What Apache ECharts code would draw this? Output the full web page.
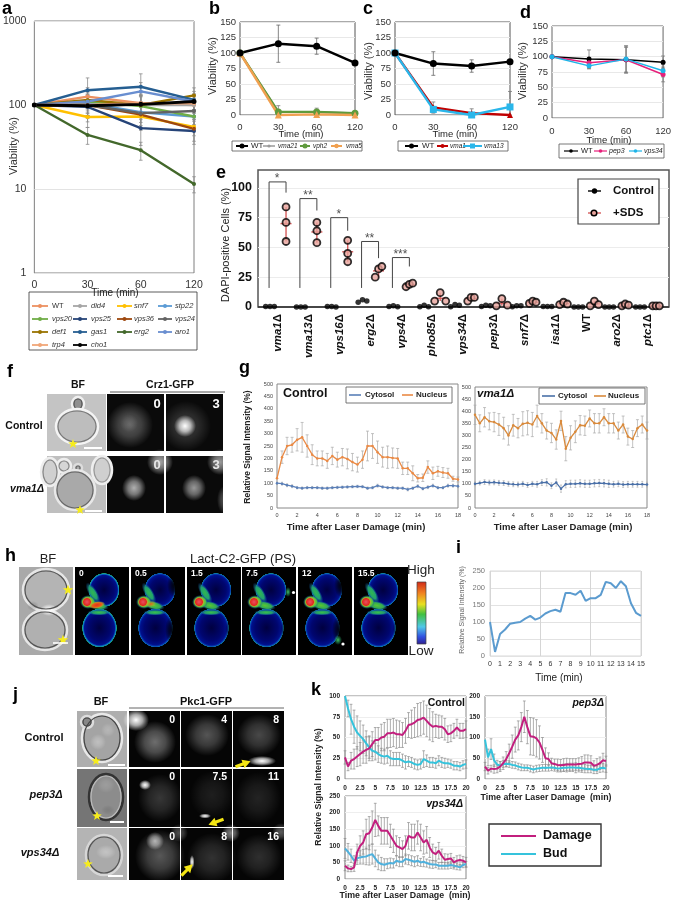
<!DOCTYPE html>
<html><head><meta charset="utf-8">
<style>html,body{margin:0;padding:0;background:#fff}#c{width:674px;height:901px}</style>
<script src="https://cdn.jsdelivr.net/npm/echarts@6/dist/echarts.min.js"></script>
</head><body><div id="c"></div>
<script>
// ---------- DATA ----------
const timeLabels = ['0','30','60','120'];
const aStrains = ['WT','did4','snf7','stp22','vps20','vps25','vps36','vps24','def1','gas1','erg2','aro1','trp4','cho1'];
const aWT=[100,126,105,100], aDid4=[100,105,100,100], aSnf7=[100,72,73,55], aStp22=[100,105,82,73],
 aVps20=[100,110,97,73], aVps25=[100,95,53,49], aVps36=[100,100,77,52], aVps24=[100,100,80,85],
 aDef1=[100,115,100,130], aGas1=[100,150,165,115], aErg2=[100,44,29,11.5], aAro1=[100,110,145,110],
 aTrp4=[100,100,105,105], aCho1=[100,98,102,110];
const aWTe=[0,35,30,25], aDid4e=[0,30,25,20], aSnf7e=[0,18,20,12], aStp22e=[0,25,20,15],
 aVps20e=[0,30,30,15], aVps25e=[0,20,20,15], aVps36e=[0,25,20,15], aVps24e=[0,25,30,15],
 aDef1e=[0,30,30,30], aGas1e=[0,60,70,30], aErg2e=[0,10,7,2.5], aAro1e=[0,40,40,25],
 aTrp4e=[0,30,25,25], aCho1e=[0,35,30,25];

const bWT=[100,115,111,84], bVma21=[100,5,5,3], bVph2=[100,5,5,3], bVma5=[100,0,1,0];
const bWTe=[0,30,13,0], bVph2e=[0,10,6,2], bVma5e=[0,1,1,0];
const cWT=[100,83,79,86], cVma1=[100,12,3,0], cVma13=[100,9,0,13];
const cWTe=[0,19,10,0], cVma1e=[0,9,7,0], cVma13e=[0,5,3,25];
const dWT=[100,96,95,91], dPep3=[100,90,95,71], dVps34=[100,85,96,77];
const dWTe=[0,15,22,10], dPep3e=[0,8,20,12], dVps34e=[0,5,22,10];

const eStrains=['vma1','vma13','vps16','erg2','vps4','pho85','vps34','pep3','snf7','isa1','WT','aro2','ptc1'];
const eControl=[[.5,.5,.5],[0,0,0],[.5,.5,0],[4,6,5],[.5,1,.3],[.3,1.5,.2],[.3,2,1.5],[.5,1.5,1],[.3,1,1],[.5,.5,.5],[0,0,0],[0,0,0],[0,0,0]];
const eSDS=[[55,71,84],[54,64,71],[38,45,56],[25,32,34],[17,19,20],[5,12,5],[5,8,8],[1,7,1.5],[3,5,4],[2,4,2.5],[1,5,2],[1,2.5,1.5],[1,1,1]];
const eSpreadSDS=[0,0,0,.12,.12,.2,.12,.2,.12,.14,.15,.12,.12];
const bracketTop=[105,91,75,55,41.5], bracketEnd=[96,81,64,41,34], bracketStars=['*','**','*','**','***'];

const gCtrlNuc=[120,205,250,255,275,285,250,215,200,200,190,210,195,205,198,185,175,195,250,250,225,205,205,202,200,160,160,140,120,122,165,140,148,143,140,118,115];
const gCtrlNucE=[0,25,35,30,45,60,45,40,30,30,30,35,30,35,40,35,30,35,60,50,45,40,45,40,40,25,25,30,15,15,25,25,20,20,20,10,10];
const gCtrlCyt=[100,98,92,88,82,80,82,82,82,80,80,82,83,84,85,86,87,86,80,82,90,85,82,82,80,80,75,80,88,78,84,90,82,82,90,90,88];
const gCtrlCytE=[5,6,6,6,5,5,5,5,5,5,5,5,5,5,5,5,5,5,5,5,6,5,5,5,5,5,6,5,6,5,6,6,5,5,6,6,6];
const gVmaNuc=[385,350,375,358,355,345,330,300,342,330,348,352,345,380,350,320,310,283,360,245,290,315,342,340,370,350,350,375,350,350,320,345,295,285,330,345,320];
const gVmaNucE=[40,35,40,35,40,45,45,40,45,40,50,50,50,45,40,35,40,40,40,50,50,45,40,40,35,40,40,35,40,40,35,35,35,35,35,35,35];
const gVmaCyt=[100,103,107,105,106,104,103,100,98,97,100,95,100,98,105,106,92,105,80,98,100,100,102,100,100,102,103,102,100,98,100,97,98,98,98,98,97];
const gVmaCytE=[8,8,10,10,10,10,10,10,10,10,10,10,10,12,12,15,12,15,15,15,15,15,15,15,15,15,15,15,15,12,12,12,12,12,12,12,10];

const iValues=[100,12,65,78,95,98,100,110,118,107,113,125,132,136,130,185,185,180,192,162,170,170,180,218,214,200,220,205,155,127,118];

const kCtrlDmg=[26,15,22,24,27,30,33,35,37,42,47,47,50,51,55,55,56,54,54,53,58,65,66,68,71,72,74,70,66,63,64,63,63,60,54,55,58,62,58,58,60];
const kCtrlDmgE=[8,5,10,12,12,14,14,16,15,15,15,15,16,17,17,17,17,17,16,15,15,15,17,18,20,20,20,19,19,18,14,14,13,13,10,10,9,10,9,9,10];
const kCtrlBud=[100,85,72,63,56,52,48,43,38,34,33,30,28,27,28,25,24,24,24,22,20,21,20,18,17,18,24,22,20,20,19,22,20,19,19,18,16,16,15,17,18];
const kCtrlBudE=[0,10,18,20,20,18,17,15,13,12,10,10,9,9,9,9,8,8,8,8,8,6,6,6,6,6,10,7,6,6,6,6,6,6,5,5,5,5,5,5,5];
const kPepDmg=[30,20,25,24,25,30,38,48,62,78,95,105,125,150,125,103,102,98,88,70,50,48,38,36,34,33,34,35,35,35,35,36,37,40,40,39,32,34,38,45,43];
const kPepDmgE=[10,8,8,10,10,12,15,18,22,28,30,35,35,38,40,45,45,45,40,30,25,15,12,12,14,14,15,15,14,14,14,15,17,18,18,17,12,15,15,17,12];
const kPepBud=[95,52,72,45,35,32,36,37,36,34,33,30,28,27,27,25,23,25,26,27,27,27,28,27,25,26,27,27,28,28,27,27,26,25,24,24,22,22,26,27,25];
const kPepBudE=[0,20,25,15,10,10,8,8,8,8,8,8,8,7,7,8,8,8,8,8,8,8,8,8,8,9,9,10,10,10,12,10,10,10,9,9,9,9,10,10,9];
const kVpsDmg=[40,32,30,35,80,100,110,135,138,155,178,160,145,145,145,130,115,100,95,90,100,130,125,125,140,125,110,118,95,80,75,85,70,58,60,62,50,55,57,55,50];
const kVpsDmgE=[15,10,8,12,25,30,35,45,50,50,50,30,40,40,40,35,35,30,30,25,30,40,40,40,35,40,35,40,30,25,20,25,20,18,15,15,15,15,15,13,15];
const kVpsBud=[92,82,70,55,62,65,67,68,72,75,62,50,45,43,46,48,47,55,52,52,60,58,55,52,55,50,52,48,45,44,44,40,40,40,40,42,40,38,35,42,45];
const kVpsBudE=[30,25,20,15,18,20,22,25,30,30,25,22,20,18,15,15,14,15,15,15,15,15,15,15,15,12,15,12,12,12,10,10,10,10,10,10,10,10,8,8,8];

// ---------- HELPERS ----------
const FF='"Liberation Sans", Arial, sans-serif';
const grids=[], xAxes=[], yAxes=[], series=[], G=[];
const seq=(arr,step)=>arr.map((v,i)=>[i*step,v]);
function addGrid(l,t,r,b,border,x,y){
  const i=grids.length;
  grids.push({left:l,top:t,width:r-l,height:b-t,show:true,borderColor:border,borderWidth:1,backgroundColor:'transparent'});
  xAxes.push(Object.assign({gridIndex:i},x)); yAxes.push(Object.assign({gridIndex:i},y));
  return i;
}
function line(g,data,color,w,symbol,size,z){
  series.push({type:'line',xAxisIndex:g,yAxisIndex:g,data,symbol:symbol||'none',symbolSize:size||0,showSymbol:!!symbol,
    lineStyle:{color,width:w},itemStyle:{color},silent:true,animation:false,z:z||3,clip:false});
}
function err(g,rows,color,cap,lw){
  series.push({type:'custom',xAxisIndex:g,yAxisIndex:g,data:rows,encode:{x:0,y:1},silent:true,animation:false,z:2,clip:false,
    renderItem(p,api){
      const x=api.value(0),y=api.value(1),e=api.value(2);
      if(!e) return {type:'group',children:[]};
      const a=api.coord([x,y+e]),b=api.coord([x,Math.max(y-e,y>0&&g===0?y*0.3:0)]);
      const st={stroke:color,lineWidth:lw};
      return {type:'group',silent:true,children:[
        {type:'line',shape:{x1:a[0],y1:a[1],x2:b[0],y2:b[1]},style:st},
        {type:'line',shape:{x1:a[0]-cap,y1:a[1],x2:a[0]+cap,y2:a[1]},style:st},
        {type:'line',shape:{x1:b[0]-cap,y1:b[1],x2:b[0]+cap,y2:b[1]},style:st}]};
    }});
}
const rowsCat=(v,e)=>v.map((y,i)=>[i,y,e[i]]);
const rowsT=(v,e,s)=>v.map((y,i)=>[i*s,y,e[i]]);

function txt(x,y,text,font,fill,align,rot,z){
  G.push({type:'text',x,y,rotation:rot||0,z:z||60,silent:true,style:{text,font,fill:fill||'#111',
    align:align||'left',verticalAlign:'middle',textAlign:align||'left',textVerticalAlign:'middle'}});
}
function rect(x,y,w,h,fill,stroke,lw,z){G.push({type:'rect',z:z||1,silent:true,shape:{x,y,width:w,height:h},style:{fill:fill||'transparent',stroke:stroke||null,lineWidth:lw||1}});}
function seg(x1,y1,x2,y2,c,w,z){G.push({type:'line',z:z||60,silent:true,shape:{x1,y1,x2,y2},style:{stroke:c,lineWidth:w}});}
function blob(cx,cy,rx,ry,stops,rot,z){
  G.push({type:'circle',x:cx,y:cy,rotation:rot||0,scaleX:1,scaleY:ry/rx,z:z||2,silent:true,shape:{cx:0,cy:0,r:rx},
    style:{fill:{type:'radial',x:.5,y:.5,r:.5,colorStops:stops.map(s=>({offset:s[0],color:s[1]}))}}});
}
function glow(cx,cy,rx,ry,a,c,rot){const k=c||'255,255,255';
  blob(cx,cy,rx,ry,[[0,`rgba(${k},${a})`],[.5,`rgba(${k},${a*.65})`],[1,`rgba(${k},0)`]],rot);}
function shell(cx,cy,rx,ry,fill,outer,inner,z){
  G.push({type:'ellipse',z:z||2,silent:true,shape:{cx,cy,rx,ry},style:{fill,stroke:outer,lineWidth:2.5}});
  G.push({type:'ellipse',z:(z||2)+.1,silent:true,shape:{cx,cy,rx:rx-2,ry:ry-2},style:{fill:'transparent',stroke:inner,lineWidth:1.2}});
}
function star(cx,cy,r){const pts=[];for(let i=0;i<10;i++){const q=i%2?r*.42:r,t=-Math.PI/2+i*Math.PI/5;pts.push([cx+q*Math.cos(t),cy+q*Math.sin(t)]);}
  G.push({type:'polygon',z:9,silent:true,shape:{points:pts},style:{fill:'#f6ec1c'}});}
function arrow(cx,cy,rot){const P=[[-8,-1.6],[0,-1.6],[0,-4.5],[8,0],[0,4.5],[0,1.6],[-8,1.6]];
  G.push({type:'polygon',x:cx,y:cy,rotation:rot,z:9,silent:true,shape:{points:P},style:{fill:'#f4e614'}});}
function legEntry(x1,x2,y,c,lw,sym,r,tx,label,font,fill){
  seg(x1,y,x2,y,c,lw,61);
  if(sym==='c') G.push({type:'circle',z:62,silent:true,shape:{cx:(x1+x2)/2,cy:y,r},style:{fill:c}});
  if(sym==='s') G.push({type:'rect',z:62,silent:true,shape:{x:(x1+x2)/2-r,y:y-r,width:2*r,height:2*r},style:{fill:c}});
  txt(tx,y,label,font,fill||'#222');
}
function legBox(x1,y1,x2,y2,c,w){G.push({type:'rect',z:59,silent:true,shape:{x:x1,y:y1,width:x2-x1,height:y2-y1},style:{fill:'#fff',stroke:c,lineWidth:w}});}
const panel=(x,y,s)=>txt(x,y,s,'bold 18px '+FF,'#000');

// ---------- a-d ----------
const catX=(fs,mar,col)=>({type:'category',boundaryGap:false,data:timeLabels,axisLine:{show:false},axisTick:{show:false},
  splitLine:{show:false},axisLabel:{fontFamily:FF,fontSize:fs,margin:mar,color:col,showMinLabel:true,showMaxLabel:true}});
const vY=(fs,col)=>({type:'value',min:0,max:150,interval:25,axisLine:{show:false},axisTick:{show:false},
  splitLine:{show:true,lineStyle:{color:'#e8e8e8',width:1}},axisLabel:{fontFamily:FF,fontSize:fs,color:col,margin:4}});
const gA=addGrid(33,21,194,273,'#7f7f7f',catX(10.5,7,'#333'),
  {type:'log',logBase:10,min:1,max:1000,axisLine:{show:false},axisTick:{show:false},minorTick:{show:false},
   splitLine:{show:true,lineStyle:{color:'#e3e3e3'}},axisLabel:{fontFamily:FF,fontSize:10.5,color:'#333',margin:8,formatter:v=>String(Math.round(v))}});
const aSet=[['WT',aWT,aWTe,'#ec9060'],['did4',aDid4,aDid4e,'#a5a5a5'],['snf7',aSnf7,aSnf7e,'#ffc000'],['stp22',aStp22,aStp22e,'#5b9bd5'],
 ['vps20',aVps20,aVps20e,'#70ad47'],['vps25',aVps25,aVps25e,'#264478'],['vps36',aVps36,aVps36e,'#9e480e'],['vps24',aVps24,aVps24e,'#636363'],
 ['def1',aDef1,aDef1e,'#997300'],['gas1',aGas1,aGas1e,'#255e91'],['erg2',aErg2,aErg2e,'#43682b'],['aro1',aAro1,aAro1e,'#698ed0'],
 ['trp4',aTrp4,aTrp4e,'#f1a678'],['cho1',aCho1,aCho1e,'#000000']];
aSet.forEach(s=>err(gA,rowsCat(s[1],s[2]),'#8c8c8c',1.8,.8));
aSet.forEach(s=>line(gA,s[1],s[3],s[0]==='cho1'?2.8:2.4,'circle',s[0]==='cho1'?5:4));

const gB=addGrid(240,22,355,115,'#555',catX(9.5,7,'#333'),vY(9.5,'#333'));
err(gB,rowsCat(bWT,bWTe),'#666',2,.8);err(gB,rowsCat(bVph2,bVph2e),'#777',2,.8);err(gB,rowsCat(bVma5,bVma5e),'#777',2,.8);
line(gB,bVma21,'#9a9a9a',2,'circle',4);line(gB,bVph2,'#5f9a3c',2.4,'circle',7);line(gB,bVma5,'#f0a050',2.4,'triangle',7);line(gB,bWT,'#000',2.4,'circle',7);

const gC=addGrid(395,22,510,115,'#555',catX(9.5,7,'#333'),vY(9.5,'#333'));
err(gC,rowsCat(cWT,cWTe),'#666',2,.8);err(gC,rowsCat(cVma1,cVma1e),'#777',2,.8);err(gC,rowsCat(cVma13,cVma13e),'#777',2,.8);
line(gC,cVma1,'#c00000',2.4,'triangle',6);line(gC,cVma13,'#2ab6ea',2.4,'rect',7);line(gC,cWT,'#000',2.4,'circle',7);

const gD=addGrid(552,26,667,118,'#666',catX(9.5,8,'#333'),vY(9.5,'#333'));
err(gD,rowsCat(dWT,dWTe),'#666',2,.7);err(gD,rowsCat(dPep3,dPep3e),'#777',2,.7);err(gD,rowsCat(dVps34,dVps34e),'#777',2,.7);
line(gD,dWT,'#000',1.5,'circle',5);line(gD,dPep3,'#e6207a',1.5,'circle',5);line(gD,dVps34,'#1fb4e8',1.5,'circle',5);

panel(2,9,'a');panel(209,9,'b');panel(363,9,'c');panel(520,13,'d');panel(216,173,'e');
panel(7,372,'f');panel(239,368,'g');panel(5,556,'h');panel(456,548,'i');panel(13,695,'j');panel(311,690,'k');

const vF='11px '+FF;
txt(14,146,'Viability (%)',vF,'#333','center',Math.PI/2);
txt(115,293,'Time (min)','10px '+FF,'#222','center');
txt(213,66,'Viability (%)',vF,'#333','center',Math.PI/2);
txt(301,134,'Time (min)','9.5px '+FF,'#222','center');
txt(369,71,'Viability (%)',vF,'#333','center',Math.PI/2);
txt(455,134,'Time (min)','9.5px '+FF,'#222','center');
txt(523,71,'Viability (%)',vF,'#333','center',Math.PI/2);
txt(609,140,'Time (min)','9.5px '+FF,'#222','center');

legBox(29,292,197,350,'#333',.8);
const aCols=[[32,48,52],[73,87,91],[117,132,134],[158,172,175]], aRows=[306,319,332,345];
aSet.forEach((s,i)=>{const c=aCols[i%4],y=aRows[Math.floor(i/4)];
  legEntry(c[0],c[1],y,s[3],1.8,'c',2,c[2],s[0],(s[0]==='WT'?'':'italic ')+'7.5px '+FF,'#333');});

legBox(232,141,362,151,'#555',.8);const yb=146;
legEntry(236,248,yb,'#000',2,'c',2.5,251,'WT','8px '+FF);
legEntry(263,275,yb,'#9a9a9a',1.5,'c',1.6,278,'vma21','italic 6.5px '+FF);
legEntry(300,310,yb,'#5f9a3c',2,'c',2.5,313,'vph2','italic 6.5px '+FF);
legEntry(331,342,yb,'#f0a050',2,'c',2.2,346,'vma5','italic 6.5px '+FF);
legBox(398,141,508,151,'#555',.8);
legEntry(405,418,yb,'#000',2,'c',2.5,422,'WT','8px '+FF);
legEntry(437,448,yb,'#c00000',2,'c',2,450,'vma1','italic 6.5px '+FF);
legEntry(463,482,yb,'#2ab6ea',2,'s',2.5,484,'vma13','italic 6.5px '+FF);
legBox(559,144,664,158,'#555',.8);
legEntry(564,578,151,'#000',1.2,'c',1.8,581,'WT','7.5px '+FF);
legEntry(594,607,151,'#e6207a',1.2,'c',1.8,609,'pep3','italic 7px '+FF);
legEntry(629,642,151,'#1fb4e8',1.2,'c',1.8,644,'vps34','italic 7px '+FF);

// ---------- e ----------
const eBold=v=>{const n=eStrains[v]; return n==='WT'?'{b|WT}':`{i|${n}}{d|Δ}`;};
const gE=addGrid(258,170,669,307,'#555',
 {type:'value',min:-0.649,max:12.68,axisLine:{show:false},splitLine:{show:false},axisTick:{show:false},
  axisLabel:{customValues:eStrains.map((_,i)=>i),rotate:90,margin:7,formatter:eBold,
   rich:{i:{fontFamily:FF,fontSize:11.5,fontWeight:'bold',fontStyle:'italic',color:'#111'},
         d:{fontFamily:FF,fontSize:11.5,fontWeight:'bold',color:'#111'},
         b:{fontFamily:FF,fontSize:11.5,fontWeight:'bold',color:'#111'}}}},
 {type:'value',min:0,max:115,axisLine:{show:false},axisTick:{show:false},
  splitLine:{show:true,showMaxLine:false,showMinLine:false,lineStyle:{color:'#ececec'}},
  splitNumber:5,interval:25,
  axisLabel:{customValues:[0,25,50,75,100],fontFamily:FF,fontSize:12.5,fontWeight:'bold',color:'#111',margin:6}});
grids[gE].borderWidth=1.5;
seg(258,307,669,307,'#333',1.5,4);
// brackets
bracketTop.forEach((t,i)=>{
  series.push({type:'line',xAxisIndex:gE,yAxisIndex:gE,silent:true,animation:false,showSymbol:false,symbol:'none',z:2,
    lineStyle:{color:'#444',width:1},data:[[i-.26-.03,16],[i-.26-.03,t],[i+.26,t],[i+.26,bracketEnd[i]]]});
  series.push({type:'scatter',xAxisIndex:gE,yAxisIndex:gE,silent:true,animation:false,symbolSize:0,z:5,data:[[i-.03,t]],
    label:{show:true,position:'top',distance:-3,formatter:bracketStars[i],fontFamily:FF,fontSize:12,color:'#222'}});
});
const ctrlPts=[],sdsPts=[],bars=[];
const j3=[-.14,0,.14];
eControl.forEach((row,i)=>row.forEach((v,k)=>ctrlPts.push([i-.26+j3[k],v])));
eSDS.forEach((row,i)=>{row.forEach((v,k)=>sdsPts.push([i+.26+(k===1?0:(k===0?-1:1))*eSpreadSDS[i]*.9,v]));
  bars.push([i+.26,Math.min(...row),Math.max(...row),row.reduce((a,b)=>a+b,0)/3]);});
series.push({type:'custom',xAxisIndex:gE,yAxisIndex:gE,data:bars,encode:{x:0,y:3},silent:true,animation:false,z:3,
  renderItem(p,api){const x=api.value(0),a=api.coord([x,api.value(1)]),b=api.coord([x,api.value(2)]),m=api.coord([x,api.value(3)]);
    const st={stroke:'#d65c5c',lineWidth:1.4};
    return {type:'group',children:[{type:'line',shape:{x1:a[0],y1:a[1],x2:b[0],y2:b[1]},style:st},
      {type:'line',shape:{x1:m[0]-5.5,y1:m[1],x2:m[0]+5.5,y2:m[1]},style:st}]};}});
series.push({type:'scatter',xAxisIndex:gE,yAxisIndex:gE,data:ctrlPts,symbol:'circle',symbolSize:5.5,itemStyle:{color:'#000'},silent:true,animation:false,z:4});
series.push({type:'scatter',xAxisIndex:gE,yAxisIndex:gE,data:sdsPts,symbol:'circle',symbolSize:7,itemStyle:{color:'#e8a49c',borderColor:'#000',borderWidth:1.8},silent:true,animation:false,z:4});
txt(226,245,'DAPI-positive Cells (%)','11px '+FF,'#222','center',Math.PI/2);
legBox(578,179,659,224,'#444',1.2);
seg(588,191,601,191,'#000',1.4,61);G.push({type:'circle',z:62,silent:true,shape:{cx:594.5,cy:191,r:2.7},style:{fill:'#000'}});
seg(588,213,601,213,'#d65c5c',1.4,61);G.push({type:'circle',z:62,silent:true,shape:{cx:594,cy:213,r:2.8},style:{fill:'#e8a49c',stroke:'#000',lineWidth:1.5}});
txt(613,191,'Control','bold 11.5px '+FF);txt(613,213,'+SDS','bold 11.5px '+FF);

// ---------- f ----------
txt(78,385,'BF','bold 10.5px '+FF,'#111','center');txt(170,385,'Crz1-GFP','bold 10.5px '+FF,'#111','center');
seg(110,392,225,392,'#555',1);
txt(24,426,'Control','bold 10.5px '+FF,'#111','center');
txt(27,489,'vma1Δ','italic bold 10.5px '+FF,'#111','center');
rect(47,394,59,57,'#c4c4c4');
shell(78,404,6,7,'#8f8f8f','#f0f0f0','#555');
G.push({type:'ellipse',z:3,silent:true,shape:{cx:77,cy:426.5,rx:21,ry:17.5},style:{fill:'#bdbdbd',stroke:'#f4f4f4',lineWidth:2.5}});
G.push({type:'ellipse',z:3.1,silent:true,shape:{cx:77,cy:426.5,rx:19,ry:15.5},style:{fill:'transparent',stroke:'#777',lineWidth:1.1}});
star(73,444,5);seg(84,448,102,448,'#fff',2,9);
rect(47,456,59,57,'#bfbfbf');
shell(64,466,7,7,'#d6d6d6','#eee','#888');shell(50,472,9,14,'#d0d0d0','#eee','#888');shell(102,470,10,14,'#cfcfcf','#eee','#999');
shell(78,468,4,4,'#aaa','#ddd','#666');
G.push({type:'ellipse',z:3,silent:true,shape:{cx:75,cy:490,rx:20,ry:20},style:{fill:'#a9a9a9',stroke:'#e8e8e8',lineWidth:2.5}});
G.push({type:'ellipse',z:3.1,silent:true,shape:{cx:75,cy:490,rx:18,ry:18},style:{fill:'transparent',stroke:'#666',lineWidth:1.1}});
star(80,510,5);seg(85,511,102,511,'#fff',2,9);
[[107,394],[166,394],[107,456],[166,456]].forEach(p=>rect(p[0],p[1],57,57,'#0a0a0a'));
glow(130,425,23,23,.33);glow(129,423,9,9,.1);
glow(186,426,25,25,.2);glow(185,426,11,11,1);
glow(134,488,12,13,.68);glow(160,462,13,13,.65);
glow(194,488,12,13,.58);glow(220,462,13,13,.6);glow(224,500,7,14,.3);
[[157,404,'0','#fff'],[216,404,'3','#fff'],[157,465,'0','#e8e8e8'],[216,465,'3','#e8e8e8']].forEach(t=>txt(t[0],t[1],t[2],'bold 13px '+FF,t[3],'center'));

// ---------- g ----------
const gx=()=>({type:'value',min:0,max:18,interval:2,axisLine:{show:false},axisTick:{show:false},splitLine:{show:false},
  axisLabel:{fontFamily:FF,fontSize:5.5,color:'#444',margin:4}});
const gy=()=>({type:'value',min:0,max:500,interval:50,axisLine:{show:false},axisTick:{show:false},splitLine:{show:false},
  axisLabel:{fontFamily:FF,fontSize:5.5,color:'#444',margin:4}});
const gG1=addGrid(277,384,458,508,'#888',gx(),gy());
err(gG1,rowsT(gCtrlNuc,gCtrlNucE,.5),'#aaa',1.5,.7);err(gG1,rowsT(gCtrlCyt,gCtrlCytE,.5),'#aaa',1,.6);
line(gG1,seq(gCtrlCyt,.5),'#5a7fb8',1.2,'circle',2.5);line(gG1,seq(gCtrlNuc,.5),'#ea8a45',1.3,'circle',2.5);
const gG2=addGrid(475,387,647,508,'#888',gx(),gy());
err(gG2,rowsT(gVmaNuc,gVmaNucE,.5),'#aaa',1.5,.7);err(gG2,rowsT(gVmaCyt,gVmaCytE,.5),'#aaa',1,.6);
line(gG2,seq(gVmaCyt,.5),'#4a70a8',1.2,'circle',2.5);line(gG2,seq(gVmaNuc,.5),'#d98a3c',1.3,'circle',2.5);
txt(248,447,'Relative Signal Intensity (%)','bold 8.5px '+FF,'#222','center',Math.PI/2);
txt(356,527,'Time after Laser Damage (min)','bold 9.5px '+FF,'#222','center');
txt(563,527,'Time after Laser Damage (min)','bold 9.5px '+FF,'#222','center');
txt(283,394,'Control','bold 12.5px '+FF);
txt(477,394,'vma1Δ','italic bold 11.5px '+FF);
legBox(346,387,452,403,'#666',.9);
legEntry(349,361,395,'#5a7fb8',1.6,null,0,365,'Cytosol','bold 8px '+FF);
legEntry(402,413,395,'#ea8a45',1.6,null,0,416,'Nucleus','bold 8px '+FF);
legBox(539,388,645,404,'#666',.9);
legEntry(542,555,396,'#4a70a8',1.6,null,0,558,'Cytosol','bold 8px '+FF);
legEntry(594,606,396,'#d98a3c',1.6,null,0,608,'Nucleus','bold 8px '+FF);

// ---------- h ----------
txt(48,559,'BF','13px '+FF,'#222','center');txt(243,559,'Lact-C2-GFP (PS)','13px '+FF,'#222','center');
rect(19,567,54,88,'#a9a9a9');
shell(46,590,23,21,'#b4b4b4','#e6e6e6','#555');shell(45,630,22,20,'#b0b0b0','#e6e6e6','#555');
glow(49,610,9,6,.9);glow(33,606,6,5,.25,'60,60,60');
star(68,590,5.5);star(63,640,5.5);seg(53,643,68,643,'#fff',1.6,9);
const hX=[75,131,187,242,298,354], hT=['0','0.5','1.5','7.5','12','15.5'];
const hRing=[['#0870c8','#1cb080'],['#0638b0','#0c78c0'],['#0638b0','#0e88b0'],['#0640b8','#1498a0'],['#0638b0','#0c78b8'],['#0640b8','#1290a8']];
hX.forEach((px,i)=>{
  rect(px,567,54,88,'#000');
  const r=hRing[i];
  const mk=(cx,cy,rx,ry)=>blob(cx,cy,rx,ry,[[0,'#000040'],[.65,'#000670'],[.86,'#00108c'],[.93,r[0]],[.98,r[1]],[1,'rgba(0,0,0,0)']]);
  mk(px+29,590,15.5,17);mk(px+24.5,628,17.5,19.5);
  if(i===1||i===4){glow(px+44,585,8,13,1,'0,0,0');glow(px+41,630,7,15,.9,'0,0,0');}
  if(i===2||i===3||i===5){glow(px+43,630,5,12,.5,'0,0,0');}
  blob(px+18,593,4.5,12,[[0,'#30b850'],[.55,'#20a070'],[1,'rgba(10,70,170,0)']],.55);
  blob(px+24,612.5,12,3,[[0,'#38c048'],[.55,'#209870'],[1,'rgba(10,70,170,0)']]);
  blob(px+23,605.5,11,4.5,[[0,'#58c830'],[.6,'#30a858'],[1,'rgba(10,70,170,0)']],-.2);
  blob(px+13,602,8,7,[[0,'#e8c820'],[.7,'#50c040'],[1,'rgba(10,70,170,0)']]);
  blob(px+12,602,5,5,[[0,'#e85060'],[.7,'#e02820'],[1,'rgba(230,180,30,.2)']]);
  if(i===0) blob(px+22,605,8,3.5,[[0,'#e83018'],[.6,'#e86018'],[1,'rgba(220,190,30,.1)']],.2);
  if(i===1) blob(px+20,604,5,3,[[0,'#e86018'],[1,'rgba(220,190,30,.1)']],.2);
  txt(px+4,574,hT[i],'bold 8.5px '+FF,'#fff');
});
blob(338,640,4,5,[[0,'#40c060'],[1,'rgba(40,180,120,0)']]);
blob(288,592,3,5,[[0,'#40c060'],[1,'rgba(40,180,120,0)']]);
G.push({type:'circle',z:8,silent:true,shape:{cx:293.5,cy:592.5,r:1.6},style:{fill:'#fff'}});
G.push({type:'circle',z:8,silent:true,shape:{cx:343,cy:644,r:1.6},style:{fill:'#fff'}});
G.push({type:'rect',z:3,silent:true,shape:{x:417,y:582,width:9,height:62},style:{stroke:'#444',lineWidth:.7,
  fill:{type:'linear',x:0,y:0,x2:0,y2:1,colorStops:[{offset:0,color:'#d02818'},{offset:.18,color:'#f08020'},{offset:.36,color:'#e8e020'},{offset:.52,color:'#40c040'},{offset:.72,color:'#50c8e8'},{offset:.88,color:'#3050e0'},{offset:1,color:'#302090'}]}}});
txt(421,570,'High','13.5px '+FF,'#222','center');txt(421,651,'Low','13.5px '+FF,'#222','center');

// ---------- i ----------
const gI=addGrid(490,571,641,656,'#d9d9d9',
 {type:'category',boundaryGap:false,data:iValues.map((_,i)=>String(i*.5)),axisLine:{show:false},axisTick:{show:false},
  axisLabel:{interval:1,fontFamily:FF,fontSize:7,color:'#333',margin:5},
  splitLine:{show:true,interval:i=>i%10===0,lineStyle:{color:'#d5d5d5'}}},
 {type:'value',min:0,max:250,interval:50,axisLine:{show:false},axisTick:{show:false},splitLine:{show:true,lineStyle:{color:'#e2e2e2'}},
  axisLabel:{fontFamily:FF,fontSize:7.5,color:'#777',margin:5}});
line(gI,iValues,'#5b9bcf',2);
txt(462,610,'Relative Signal Intensity (%)','7px '+FF,'#666','center',Math.PI/2);
txt(559,678,'Time (min)','10px '+FF,'#222','center');

// ---------- j ----------
txt(101,702,'BF','bold 11px '+FF,'#111','center');txt(206,702,'Pkc1-GFP','bold 11px '+FF,'#111','center');
seg(129,708,284,708,'#666',1);
txt(44,738,'Control','bold 11px '+FF,'#111','center');
txt(46,795,'pep3Δ','italic bold 11px '+FF,'#111','center');
txt(40,853,'vps34Δ','italic bold 11px '+FF,'#111','center');
rect(77,711,50,56,'#aeaeae');
shell(102,738,20,24,'#a4a4a4','#e8e8e8','#444');shell(87,722,6,6,'#888','#ddd','#444');
glow(98,742,8,8,.3);glow(108,730,7,7,.2);star(96,761,5);seg(108,765,125,765,'#fff',2,9);
rect(77,769,50,58,'#757575');
shell(106,797,17,23,'#8c8c8c','#333','#bbb');glow(106,785,9,8,.15);glow(108,810,7,5,.1,'0,0,0');
star(97,816,5);seg(110,822,124,822,'#fff',2,9);
rect(77,828,50,52,'#b4b4b4');
shell(104,855,18,20,'#aaaaaa','#d6d6d6','#555');glow(106,852,10,7,.3);
star(88,864,5);seg(108,876,123,876,'#fff',2,9);
const jX=[129,181,233],jR=[[711,56],[769,58],[828,52]];
jR.forEach(r=>jX.forEach(x=>rect(x,r[0],51,r[1],'#050505')));
glow(155,742,21,21,.42);glow(136,720,13,11,1);glow(207,735,22,21,.32);glow(259,735,22,21,.27);glow(262,761,14,5,1);
glow(160,798,22,24,.2);glow(145,785,6,5,1);glow(212,795,22,24,.1);glow(205,816,6,2.5,1);glow(258,798,23,26,.12);
glow(160,856,25,26,.33);glow(155,841,9,9,.65);glow(179,833,9,9,.3);
glow(212,858,25,25,.18);glow(192,862,2.5,7,1);glow(231,833,9,9,.5);glow(259,857,23,23,.17);glow(281,832,9,9,.35);
arrow(243,764,.35);arrow(216,822,-2.8);arrow(187,870,.8);
[[175,720,'0'],[227,720,'4'],[279,720,'8'],[175,777,'0'],[227,777,'7.5'],[279,777,'11'],[175,837,'0'],[227,837,'8'],[279,837,'16']]
 .forEach(t=>txt(t[0],t[1],t[2],'bold 10.5px '+FF,'#fff','right'));

// ---------- k ----------
const kx=()=>({type:'value',min:0,max:20,interval:2.5,axisLine:{show:false},axisTick:{show:false},splitLine:{show:false},
  axisLabel:{fontFamily:FF,fontSize:6.5,fontWeight:'bold',color:'#222',margin:6,hideOverlap:false}});
const ky=(m,iv)=>({type:'value',min:0,max:m,interval:iv,axisLine:{show:false},axisTick:{show:false},splitLine:{show:true,lineStyle:{color:'#eeeeee'}},
  axisLabel:{fontFamily:FF,fontSize:6.5,fontWeight:'bold',color:'#222',margin:5}});
const dmgC='#c21f7e',budC='#35c3dc';
const gK1=addGrid(345,696,466,779,'#888',kx(),ky(100,25));
err(gK1,rowsT(kCtrlDmg,kCtrlDmgE,.5),'#8c8c8c',1.4,.7);err(gK1,rowsT(kCtrlBud,kCtrlBudE,.5),'#8c8c8c',1.4,.7);
line(gK1,seq(kCtrlBud,.5),budC,2);line(gK1,seq(kCtrlDmg,.5),dmgC,2);
const gK2=addGrid(485,696,606,779,'#888',kx(),ky(200,50));
err(gK2,rowsT(kPepDmg,kPepDmgE,.5),'#8c8c8c',1.4,.7);err(gK2,rowsT(kPepBud,kPepBudE,.5),'#8c8c8c',1.4,.7);
line(gK2,seq(kPepBud,.5),budC,2);line(gK2,seq(kPepDmg,.5),dmgC,2);
const gK3=addGrid(345,796,466,879,'#888',kx(),ky(250,50));
err(gK3,rowsT(kVpsDmg,kVpsDmgE,.5),'#8c8c8c',1.4,.7);err(gK3,rowsT(kVpsBud,kVpsBudE,.5),'#8c8c8c',1.4,.7);
line(gK3,seq(kVpsBud,.5),'#4fb0dc',2);line(gK3,seq(kVpsDmg,.5),dmgC,2);
txt(465,703,'Control','bold 10.5px '+FF,'#111','right');
txt(604,703,'pep3Δ','italic bold 10.5px '+FF,'#111','right');
txt(463,804,'vps34Δ','italic bold 10.5px '+FF,'#111','right');
txt(319,787,'Relative Signal Intensity (%)','bold 8.8px '+FF,'#222','center',Math.PI/2);
txt(546,798,'Time after Laser Damage  (min)','bold 8.8px '+FF,'#222','center');
txt(405,896,'Time after Laser Damage  (min)','bold 8.8px '+FF,'#222','center');
legBox(489,824,601,866,'#333',1.4);
seg(501,836,536,836,dmgC,2,61);seg(501,854,536,854,budC,2,61);
txt(543,836,'Damage','bold 12.5px '+FF);txt(543,854,'Bud','bold 12.5px '+FF);

// ---------- chart ----------
const chart=echarts.init(document.getElementById('c'),null,{renderer:'canvas',width:674,height:901});
chart.setOption({animation:false,backgroundColor:'#fff',grid:grids,xAxis:xAxes,yAxis:yAxes,series,graphic:{elements:G}});
</script></body></html>
